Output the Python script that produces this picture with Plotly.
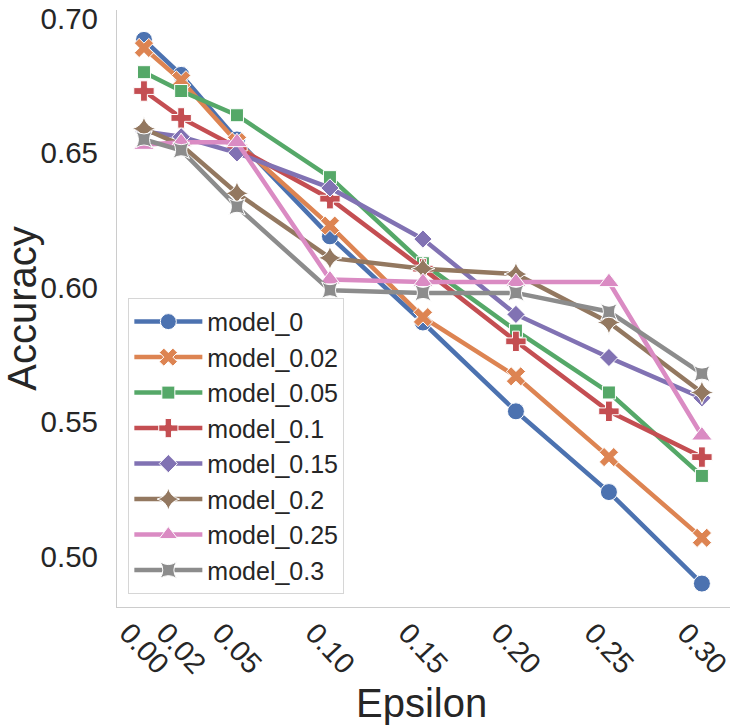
import plotly.graph_objects as go

epsilons = [0.00, 0.02, 0.05, 0.10, 0.15, 0.20, 0.25, 0.30]
tick_labels = ["0.00", "0.02", "0.05", "0.10", "0.15", "0.20", "0.25", "0.30"]

model_names = ["model_0", "model_0.02", "model_0.05", "model_0.1",
               "model_0.15", "model_0.2", "model_0.25", "model_0.3"]

acc_model_0    = [0.692, 0.679, 0.655, 0.619, 0.587, 0.554, 0.524, 0.490]
acc_model_0_02 = [0.689, 0.677, 0.654, 0.623, 0.589, 0.567, 0.537, 0.507]
acc_model_0_05 = [0.680, 0.673, 0.664, 0.641, 0.609, 0.584, 0.561, 0.530]
acc_model_0_1  = [0.673, 0.663, 0.652, 0.633, 0.607, 0.580, 0.554, 0.537]
acc_model_0_15 = [0.658, 0.656, 0.650, 0.637, 0.618, 0.590, 0.574, 0.559]
acc_model_0_2  = [0.659, 0.653, 0.635, 0.611, 0.607, 0.605, 0.587, 0.561]
acc_model_0_25 = [0.653, 0.654, 0.654, 0.603, 0.602, 0.602, 0.602, 0.545]
acc_model_0_3  = [0.655, 0.651, 0.630, 0.599, 0.598, 0.598, 0.591, 0.568]

series = [acc_model_0, acc_model_0_02, acc_model_0_05, acc_model_0_1,
          acc_model_0_15, acc_model_0_2, acc_model_0_25, acc_model_0_3]

colors = ["#4C72B0", "#DD8452", "#55A868", "#C44E52",
          "#8172B3", "#937860", "#DA8BC3", "#8C8C8C"]
symbols = ["circle", "x", "square", "cross",
           "diamond", "star-diamond", "triangle-up", "star-square"]
sizes = [17, 17, 13, 17, 14, 17, 18, 15]

TXT = "#262626"
FONT = "Liberation Sans"

fig = go.Figure()
for i, (name, vals) in enumerate(zip(model_names, series)):
    fig.add_trace(go.Scatter(
        x=epsilons, y=vals, name=name, mode="lines+markers",
        line=dict(color=colors[i], width=4.5),
        marker=dict(symbol=symbols[i], size=sizes[i], color=colors[i],
                    line=dict(color="white", width=1)),
    ))

# rotated x tick labels centred on their ticks (as in the reference)
annotations = []
for e, lab in zip(epsilons, tick_labels):
    annotations.append(dict(
        x=e, xref="x", y=-0.069, yref="paper", text=lab, showarrow=False,
        textangle=47, xanchor="center", yanchor="middle",
        font=dict(family=FONT, size=29, color=TXT)))
annotations.append(dict(
    x=0.497, xref="paper", y=-0.161, yref="paper", text="Epsilon",
    showarrow=False, xanchor="center", yanchor="middle",
    font=dict(family=FONT, size=40, color=TXT)))

fig.update_layout(
    width=737, height=728,
    margin=dict(l=117, r=7, t=10, b=121),
    paper_bgcolor="white", plot_bgcolor="white",
    font=dict(family=FONT, color=TXT),
    annotations=annotations,
    legend=dict(
        x=0.0185, y=0.022, xanchor="left", yanchor="bottom",
        bgcolor="rgba(255,255,255,0.8)", bordercolor="#d6d6d6", borderwidth=1,
        font=dict(family=FONT, size=25, color=TXT),
        itemwidth=68,
    ),
    xaxis=dict(
        range=[-0.0145, 0.3151], showgrid=False, zeroline=False,
        showline=True, linecolor="#cccccc", linewidth=1.25,
        tickvals=epsilons, showticklabels=False, ticks="",
    ),
    yaxis=dict(
        range=[0.4813, 0.7031], showgrid=False, zeroline=False,
        showline=True, linecolor="#cccccc", linewidth=1.25,
        tickvals=[0.50, 0.55, 0.60, 0.65, 0.70],
        ticktext=["0.50", "0.55", "0.60", "0.65", "0.70"],
        ticks="", ticklabelstandoff=12,
        tickfont=dict(family=FONT, size=29.5, color=TXT),
        title=dict(text="Accuracy", font=dict(family=FONT, size=40, color=TXT),
                   standoff=8),
        automargin=False,
    ),
)

fig.write_html("out.html", config={"displayModeBar": False},
               post_script="document.body.style.margin='0';document.body.style.overflow='hidden';")
